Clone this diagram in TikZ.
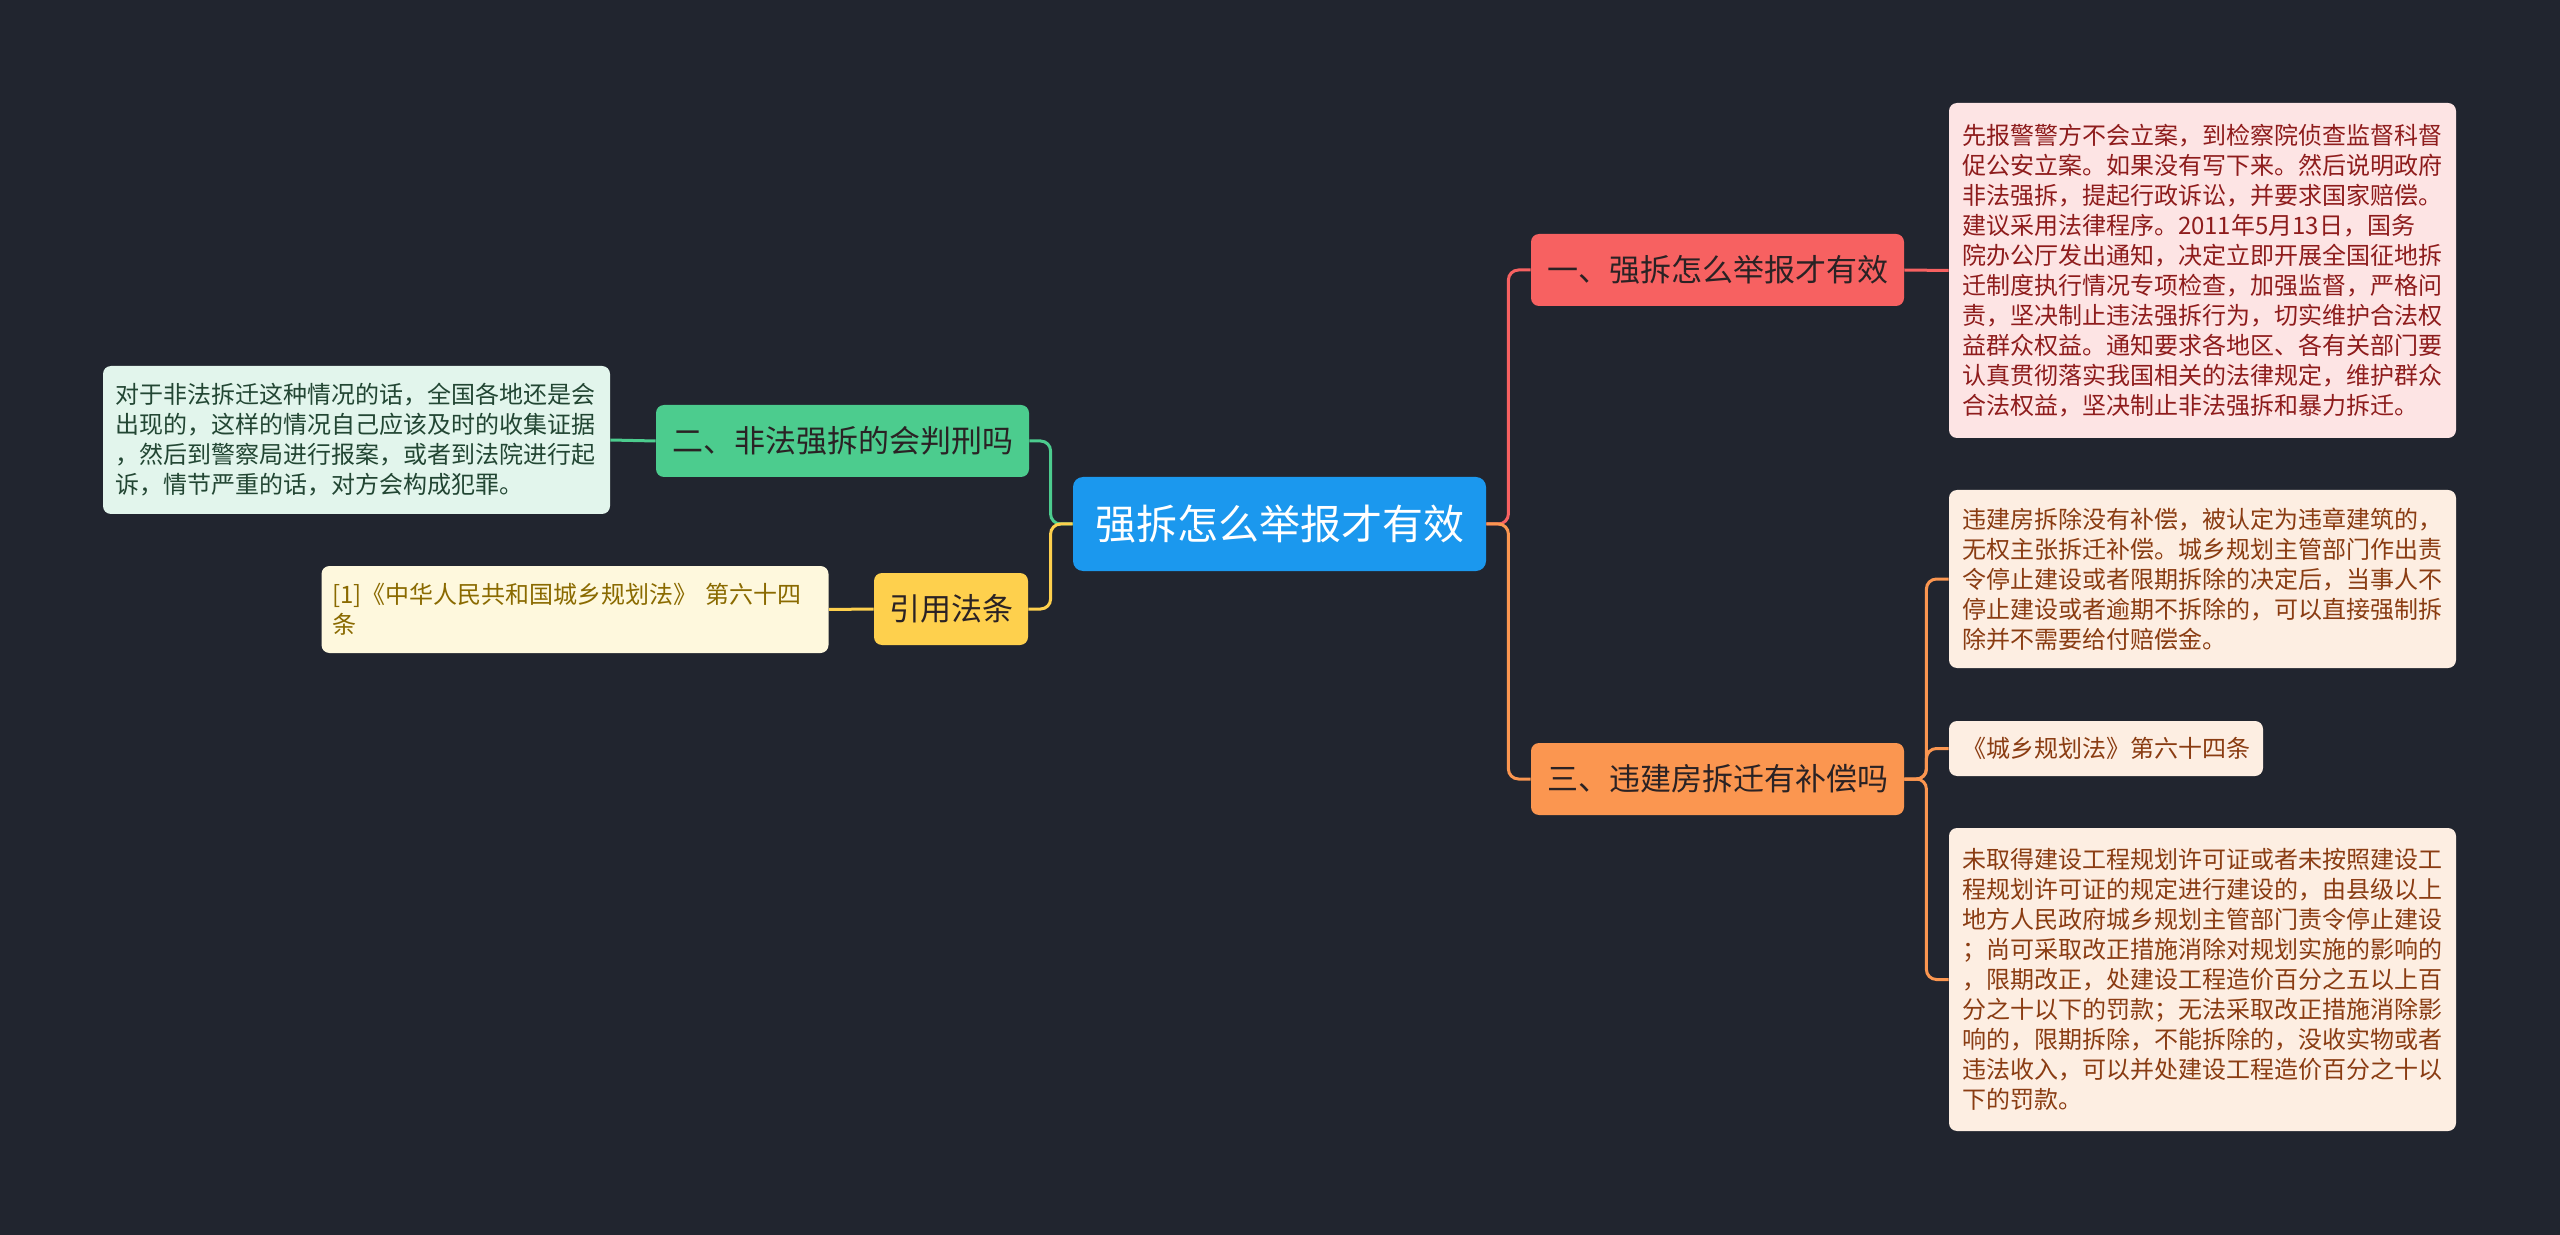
\documentclass[tikz,border=0pt]{standalone}
\usepackage{fontspec}
\setmainfont{Noto Sans CJK SC}
\usetikzlibrary{positioning}

\definecolor{bgnavy}{HTML}{21252F}
\definecolor{rootblue}{HTML}{1B98EE}
\definecolor{redbranch}{HTML}{F76161}
\definecolor{orangebranch}{HTML}{FB9650}
\definecolor{greenbranch}{HTML}{4CCC8E}
\definecolor{yellowbranch}{HTML}{FED04D}
\definecolor{branchtext}{HTML}{2A2224}
\definecolor{redleaf}{HTML}{FDE4E4}
\definecolor{redleaftext}{HTML}{8E1C1C}
\definecolor{orangeleaf}{HTML}{FDEEE2}
\definecolor{orangeleaftext}{HTML}{8A3C12}
\definecolor{greenleaf}{HTML}{E2F5EC}
\definecolor{greenleaftext}{HTML}{224633}
\definecolor{yellowleaf}{HTML}{FEF8DD}
\definecolor{yellowleaftext}{HTML}{8A6A00}

\tikzset{
    topic/.style={
        rounded corners=5pt, fill=rootblue, text=white,
        font=\fontsize{20.5pt}{24pt}\selectfont,
        minimum width=206.5pt, minimum height=47pt, inner sep=0pt
    },
    branch/.style={
        rounded corners=4pt, text=branchtext,
        font=\fontsize{15.5pt}{19pt}\selectfont,
        minimum height=36pt, inner sep=0pt
    },
    leaf/.style={
        rounded corners=4pt, align=left,
        font=\fontsize{12pt}{15pt}\selectfont,
        inner xsep=6.5pt, inner ysep=0pt
    },
    link/.style={line width=1.5pt, rounded corners=5pt}
}

\begin{document}
\begin{tikzpicture}[x=0.5pt, y=-0.5pt]

	\fill[bgnavy] (0,0) rectangle (2560,1235);
	\useasboundingbox (0,0) rectangle (2560,1235);

	\def\gap{22}

	% centre and main branches
	\node[topic] (root) at (1279.5,524) {强拆怎么举报才有效};
	\node[branch, fill=redbranch, minimum width=186.5pt] (b1) at (1717.5,270) {一、强拆怎么举报才有效};
	\node[branch, fill=orangebranch, minimum width=186.5pt] (b3) at (1717.5,779) {三、违建房拆迁有补偿吗};
	\node[branch, fill=greenbranch, minimum width=186.5pt] (b2) at (842.5,441) {二、非法强拆的会判刑吗};
	\node[branch, fill=yellowbranch, minimum width=77pt] (b4) at (951,609) {引用法条};

	% leaves
	\node[leaf, fill=redleaf, text=redleaftext, text width=240.5pt, minimum height=167.5pt] (l1) at (2202.5,270.5) {先报警警方不会立案，到检察院侦查监督科督\\促公安立案。如果没有写下来。然后说明政府\\非法强拆，提起行政诉讼，并要求国家赔偿。\\建议采用法律程序。2011年5月13日，国务\\院办公厅发出通知，决定立即开展全国征地拆\\迁制度执行情况专项检查，加强监督，严格问\\责，坚决制止违法强拆行为，切实维护合法权\\益群众权益。通知要求各地区、各有关部门要\\认真贯彻落实我国相关的法律规定，维护群众\\合法权益，坚决制止非法强拆和暴力拆迁。};

	\node[leaf, fill=orangeleaf, text=orangeleaftext, text width=240.5pt, minimum height=89pt] (l3a) at (2202.5,579) {违建房拆除没有补偿，被认定为违章建筑的，\\无权主张拆迁补偿。城乡规划主管部门作出责\\令停止建设或者限期拆除的决定后，当事人不\\停止建设或者逾期不拆除的，可以直接强制拆\\除并不需要给付赔偿金。};
	\node[leaf, fill=orangeleaf, text=orangeleaftext, text width=144pt, minimum height=27.5pt] (l3b) at (2106,748.5) {《城乡规划法》第六十四条};
	\node[leaf, fill=orangeleaf, text=orangeleaftext, text width=240.5pt, minimum height=151.5pt] (l3c) at (2202.5,979.5) {未取得建设工程规划许可证或者未按照建设工\\程规划许可证的规定进行建设的，由县级以上\\地方人民政府城乡规划主管部门责令停止建设\\；尚可采取改正措施消除对规划实施的影响的\\，限期改正，处建设工程造价百分之五以上百\\分之十以下的罚款；无法采取改正措施消除影\\响的，限期拆除，不能拆除的，没收实物或者\\违法收入，可以并处建设工程造价百分之十以\\下的罚款。};

	\node[leaf, fill=greenleaf, text=greenleaftext, text width=241.5pt, inner xsep=6pt, minimum height=74pt] (l2) at (356.5,440) {对于非法拆迁这种情况的话，全国各地还是会\\出现的，这样的情况自己应该及时的收集证据\\，然后到警察局进行报案，或者到法院进行起\\诉，情节严重的话，对方会构成犯罪。};
	\node[leaf, fill=yellowleaf, text=yellowleaftext, text width=243pt, inner xsep=5.25pt, minimum height=43.5pt] (l4) at (575,609.5) {[1]《中华人民共和国城乡规划法》 第六十四\\条};

	% connectors, right side
	\draw[link, redbranch] (root.east) -- ++(\gap,0) |- (b1.west);
	\draw[link, orangebranch] (root.east) -- ++(\gap,0) |- (b3.west);
	\draw[link, redbranch] (b1.east) -- (l1.west);
	\foreach \leafname in {l3a,l3b,l3c}
		\draw[link, orangebranch] (b3.east) -- ++(\gap,0) |- (\leafname.west);

	% connectors, left side
	\draw[link, greenbranch] (root.west) -- ++(-\gap,0) |- (b2.east);
	\draw[link, yellowbranch] (root.west) -- ++(-\gap,0) |- (b4.east);
	\draw[link, greenbranch] (b2.west) -- (l2.east);
	\draw[link, yellowbranch] (b4.west) -- (l4.east);

\end{tikzpicture}
\end{document}
